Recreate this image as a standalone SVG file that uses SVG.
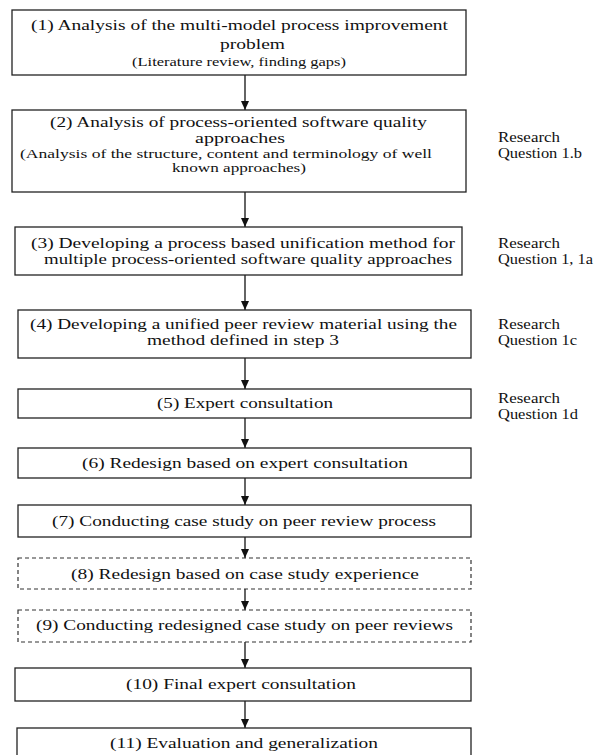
<svg xmlns="http://www.w3.org/2000/svg" width="600" height="755" viewBox="0 0 600 755">
<defs>
<style>
.box{fill:#fff;stroke:#222;stroke-width:1.3}
.dash{fill:#fff;stroke:#333;stroke-width:1.2;stroke-dasharray:4 3}
.t{font-family:"Liberation Serif","Times New Roman",serif;font-size:15px;fill:#111}
.s{font-family:"Liberation Serif","Times New Roman",serif;font-size:13px;fill:#111}
.rq{font-family:"Liberation Serif","Times New Roman",serif;font-size:14px;fill:#111}
.c{stroke:#111;stroke-width:1.3;fill:none;marker-end:url(#ah)}
</style>
<marker id="ah" viewBox="0 0 9 8" refX="9" refY="4" markerWidth="9" markerHeight="8" markerUnits="userSpaceOnUse" orient="auto">
<path d="M0,0 L9,4 L0,8 Z" fill="#111"/>
</marker>
</defs>
<rect width="600" height="755" fill="#fff"/>
<g id="connectors">
<line class="c" x1="245" y1="75" x2="245" y2="110"/>
<line class="c" x1="245" y1="192" x2="245" y2="227"/>
<line class="c" x1="245" y1="275" x2="245" y2="310"/>
<line class="c" x1="245" y1="358" x2="245" y2="389"/>
<line class="c" x1="245" y1="418" x2="245" y2="448"/>
<line class="c" x1="245" y1="478" x2="245" y2="505"/>
<line class="c" x1="245" y1="537" x2="245" y2="558"/>
<line class="c" x1="245" y1="589" x2="245" y2="610"/>
<line class="c" x1="245" y1="642" x2="245" y2="668"/>
<line class="c" x1="245" y1="701" x2="245" y2="728"/>
</g>
<g id="n1">
<rect class="box" x="12" y="10" width="454" height="65"/>
<text class="t" x="31" y="30" textLength="417" lengthAdjust="spacingAndGlyphs">(1)  Analysis of the multi-model process improvement</text>
<text class="t" x="220" y="49" textLength="65" lengthAdjust="spacingAndGlyphs">problem</text>
<text class="s" x="132" y="66" textLength="214" lengthAdjust="spacingAndGlyphs">(Literature review, finding gaps)</text>
</g>
<g id="n2">
<rect class="box" x="12" y="110" width="454" height="82"/>
<text class="t" x="50" y="127" textLength="377" lengthAdjust="spacingAndGlyphs">(2) Analysis of process-oriented software quality</text>
<text class="t" x="195" y="143" textLength="90" lengthAdjust="spacingAndGlyphs">approaches</text>
<text class="s" x="20" y="158" textLength="412" lengthAdjust="spacingAndGlyphs">(Analysis of the structure, content and terminology of well</text>
<text class="s" x="172" y="172" textLength="134" lengthAdjust="spacingAndGlyphs">known approaches)</text>
</g>
<g id="rq1">
<text class="rq" x="498" y="142" textLength="62" lengthAdjust="spacingAndGlyphs">Research</text>
<text class="rq" x="498" y="158" textLength="84" lengthAdjust="spacingAndGlyphs">Question 1.b</text>
</g>
<g id="n3">
<rect class="box" x="15" y="227" width="447" height="48"/>
<text class="t" x="31" y="248" textLength="424" lengthAdjust="spacingAndGlyphs">(3) Developing a process based unification method for</text>
<text class="t" x="44" y="264" textLength="408" lengthAdjust="spacingAndGlyphs">multiple process-oriented software quality approaches</text>
</g>
<g id="rq2">
<text class="rq" x="498" y="248" textLength="62" lengthAdjust="spacingAndGlyphs">Research</text>
<text class="rq" x="498" y="264" textLength="95" lengthAdjust="spacingAndGlyphs">Question 1, 1a</text>
</g>
<g id="n4">
<rect class="box" x="18" y="310" width="453" height="48"/>
<text class="t" x="30" y="329" textLength="427" lengthAdjust="spacingAndGlyphs">(4) Developing a unified peer review material using the</text>
<text class="t" x="147" y="345" textLength="192" lengthAdjust="spacingAndGlyphs">method defined in step 3</text>
</g>
<g id="rq3">
<text class="rq" x="498" y="329" textLength="62" lengthAdjust="spacingAndGlyphs">Research</text>
<text class="rq" x="498" y="345" textLength="79" lengthAdjust="spacingAndGlyphs">Question 1c</text>
</g>
<g id="n5">
<rect class="box" x="18" y="389" width="453" height="29"/>
<text class="t" x="157" y="408" textLength="176" lengthAdjust="spacingAndGlyphs">(5) Expert consultation</text>
</g>
<g id="rq4">
<text class="rq" x="498" y="403" textLength="62" lengthAdjust="spacingAndGlyphs">Research</text>
<text class="rq" x="498" y="419" textLength="80" lengthAdjust="spacingAndGlyphs">Question 1d</text>
</g>
<g id="n6">
<rect class="box" x="18" y="448" width="453" height="30"/>
<text class="t" x="82" y="468" textLength="326" lengthAdjust="spacingAndGlyphs">(6) Redesign based on expert consultation</text>
</g>
<g id="n7">
<rect class="box" x="18" y="505" width="453" height="32"/>
<text class="t" x="52" y="526" textLength="384" lengthAdjust="spacingAndGlyphs">(7) Conducting case study on peer review process</text>
</g>
<g id="n8">
<rect class="dash" x="18" y="558" width="453" height="31"/>
<text class="t" x="71" y="579" textLength="348" lengthAdjust="spacingAndGlyphs">(8) Redesign based on case study experience</text>
</g>
<g id="n9">
<rect class="dash" x="18" y="610" width="453" height="32"/>
<text class="t" x="36" y="630" textLength="417" lengthAdjust="spacingAndGlyphs">(9) Conducting redesigned case study on peer reviews</text>
</g>
<g id="n10">
<rect class="box" x="15" y="668" width="456" height="33"/>
<text class="t" x="126" y="689" textLength="230" lengthAdjust="spacingAndGlyphs">(10) Final expert consultation</text>
</g>
<g id="n11">
<rect class="box" x="17" y="728" width="454" height="40"/>
<text class="t" x="110" y="748" textLength="268" lengthAdjust="spacingAndGlyphs">(11) Evaluation and generalization</text>
</g>
</svg>
